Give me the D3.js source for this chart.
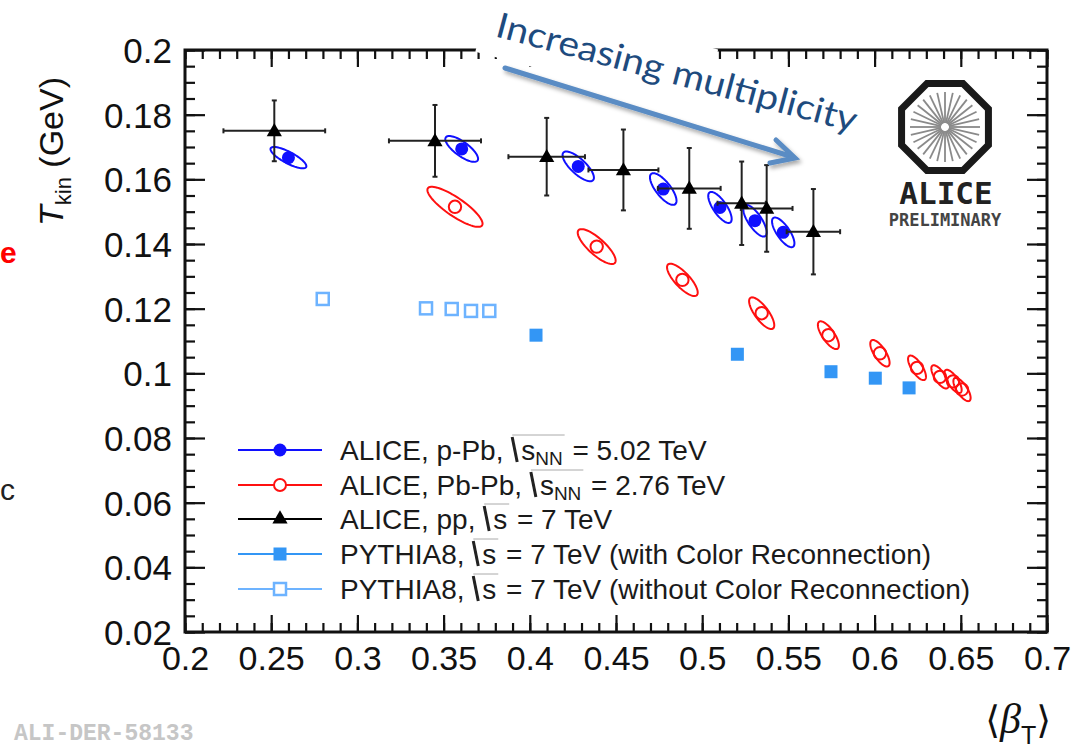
<!DOCTYPE html>
<html><head><meta charset="utf-8">
<script src="https://cdn.jsdelivr.net/npm/d3@7"></script>
<style>body{margin:0;background:#fff;} svg{display:block;}</style>
</head><body>
<svg id="c" width="1081" height="748"></svg>
<script>
// ---------------- DATA ----------------
// p-Pb 5.02 TeV: beta, Tkin, half-extent in beta, half-extent in Tkin, correlation
const ppbPoints = [
  [0.2600, 0.1667, 0.0104, 0.0033, -0.80],
  [0.3605, 0.1694, 0.0095, 0.0040, -0.76],
  [0.4281, 0.1640, 0.0091, 0.0046, -0.76],
  [0.4774, 0.1570, 0.0077, 0.0049, -0.74],
  [0.5103, 0.1513, 0.0068, 0.0048, -0.74],
  [0.5306, 0.1472, 0.0068, 0.0049, -0.74],
  [0.5470, 0.1436, 0.0065, 0.0046, -0.74]
];
// Pb-Pb 2.76 TeV
const pbpbPoints = [
  [0.3566, 0.1515, 0.0160, 0.0062, -0.84],
  [0.4388, 0.1392, 0.0110, 0.0054, -0.80],
  [0.4885, 0.1289, 0.0089, 0.0050, -0.78],
  [0.5345, 0.1186, 0.0073, 0.0049, -0.76],
  [0.5732, 0.1118, 0.0061, 0.0043, -0.74],
  [0.6031, 0.1062, 0.0056, 0.0041, -0.72],
  [0.6246, 0.1017, 0.0052, 0.0038, -0.72],
  [0.6379, 0.0989, 0.0050, 0.0036, -0.72],
  [0.6455, 0.0975, 0.0050, 0.0036, -0.72],
  [0.6507, 0.0950, 0.0050, 0.0036, -0.72]
];
// pp 7 TeV: beta, Tkin, beta error, Tkin error
const ppPoints = [
  [0.2518, 0.1750, 0.0295, 0.0094],
  [0.3450, 0.1719, 0.0267, 0.0111],
  [0.4098, 0.1670, 0.0222, 0.0120],
  [0.4543, 0.1629, 0.0203, 0.0125],
  [0.4925, 0.1572, 0.0182, 0.0125],
  [0.5229, 0.1526, 0.0140, 0.0129],
  [0.5374, 0.1510, 0.0150, 0.0134],
  [0.5645, 0.1438, 0.0155, 0.0132]
];
const pythiaCR = [[0.4036, 0.1118], [0.5204, 0.1059], [0.5747, 0.1005], [0.6004, 0.0985], [0.6200, 0.0955]];
const pythiaNoCR = [[0.2799, 0.1230], [0.3398, 0.1201], [0.3547, 0.1199], [0.3659, 0.1193], [0.3765, 0.1193]];

const xTicks = [0.2, 0.25, 0.3, 0.35, 0.4, 0.45, 0.5, 0.55, 0.6, 0.65, 0.7];
const xTickLabels = ["0.2", "0.25", "0.3", "0.35", "0.4", "0.45", "0.5", "0.55", "0.6", "0.65", "0.7"];
const yTicks = [0.02, 0.04, 0.06, 0.08, 0.1, 0.12, 0.14, 0.16, 0.18, 0.2];
const yTickLabels = ["0.02", "0.04", "0.06", "0.08", "0.1", "0.12", "0.14", "0.16", "0.18", "0.2"];

const legendEntries = [
  {key: "ppb",  parts: [{t: "ALICE, p-Pb, "}, {rad: 1}, {t: "s"}, {t: "NN", sub: 1}, {radEnd: 1}, {t: " = 5.02 TeV"}]},
  {key: "pbpb", parts: [{t: "ALICE, Pb-Pb, "}, {rad: 1}, {t: "s"}, {t: "NN", sub: 1}, {radEnd: 1}, {t: " = 2.76 TeV"}]},
  {key: "pp",   parts: [{t: "ALICE, pp, "}, {rad: 1}, {t: "s"}, {radEnd: 1}, {t: " = 7 TeV"}]},
  {key: "cr",   parts: [{t: "PYTHIA8, "}, {rad: 1}, {t: "s"}, {radEnd: 1}, {t: " = 7 TeV (with Color Reconnection)"}]},
  {key: "nocr", parts: [{t: "PYTHIA8, "}, {rad: 1}, {t: "s"}, {radEnd: 1}, {t: " = 7 TeV (without Color Reconnection)"}]}
];

// ---------------- STYLE ----------------
const C = {ppb: "#1010ff", pbpb: "#ff1010", pp: "#000", cr: "#3396f5", nocr: "#6db3ff"};
const FONT = "'Liberation Sans', Arial, Helvetica, sans-serif";

const svg = d3.select("#c");
const x = d3.scaleLinear().domain([0.2, 0.7]).range([185, 1047]);
const y = d3.scaleLinear().domain([0.02, 0.2]).range([632, 50]);

// ---------- axes ----------
function styleAxis(g) {
  g.select(".domain").remove();
  g.selectAll("line").attr("stroke", "#111").attr("stroke-width", 2.2);
}
const xMinor = d3.range(0.2, 0.7001, 0.01);
const yMinor = d3.range(0.02, 0.2001, 0.005);

const axG = svg.append("g");
axG.append("g").attr("transform", "translate(0,632)")
  .call(d3.axisBottom(x).tickValues(xMinor).tickSize(-9).tickFormat("")).call(styleAxis);
axG.append("g").attr("transform", "translate(0,50)")
  .call(d3.axisTop(x).tickValues(xMinor).tickSize(-9).tickFormat("")).call(styleAxis);
axG.append("g").attr("transform", "translate(185,0)")
  .call(d3.axisLeft(y).tickValues(yMinor).tickSize(-10).tickFormat("")).call(styleAxis);
axG.append("g").attr("transform", "translate(1047,0)")
  .call(d3.axisRight(y).tickValues(yMinor).tickSize(-10).tickFormat("")).call(styleAxis);

const xAxB = axG.append("g").attr("transform", "translate(0,632)")
  .call(d3.axisBottom(x).tickValues(xTicks).tickSize(-17).tickPadding(14).tickFormat((d, i) => xTickLabels[i]));
xAxB.call(styleAxis);
xAxB.selectAll("text").attr("font-family", FONT).attr("font-size", 34).attr("fill", "#111").attr("dy", "0.71em");
axG.append("g").attr("transform", "translate(0,50)")
  .call(d3.axisTop(x).tickValues(xTicks).tickSize(-17).tickFormat("")).call(styleAxis);
const yAxL = axG.append("g").attr("transform", "translate(185,0)")
  .call(d3.axisLeft(y).tickValues(yTicks).tickSize(-20).tickPadding(13).tickFormat((d, i) => yTickLabels[i]));
yAxL.call(styleAxis);
yAxL.selectAll("text").attr("font-family", FONT).attr("font-size", 35).attr("fill", "#111").attr("dy", "0.36em");
axG.append("g").attr("transform", "translate(1047,0)")
  .call(d3.axisRight(y).tickValues(yTicks).tickSize(-20).tickFormat("")).call(styleAxis);

// frame
svg.append("rect").attr("x", 185).attr("y", 50).attr("width", 1047 - 185).attr("height", 632 - 50)
  .attr("fill", "none").attr("stroke", "#111").attr("stroke-width", 3);

// ---------- ellipses ----------
function ellipsePath(d) {
  const phi = Math.acos(d[4]);
  const pts = d3.range(0, 73).map(k => {
    const t = k / 72 * 2 * Math.PI;
    return [x(d[0] + d[2] * Math.cos(t)), y(d[1] + d[3] * Math.cos(t - phi))];
  });
  return d3.line()(pts) + "Z";
}
const dataG = svg.append("g");
dataG.selectAll(".epb").data(pbpbPoints).join("path").attr("d", ellipsePath)
  .attr("fill", "none").attr("stroke", C.pbpb).attr("stroke-width", 2);
dataG.selectAll(".cpb").data(pbpbPoints).join("circle")
  .attr("cx", d => x(d[0])).attr("cy", d => y(d[1])).attr("r", 6.2)
  .attr("fill", "none").attr("stroke", C.pbpb).attr("stroke-width", 2);

dataG.selectAll(".ep").data(ppbPoints).join("path").attr("d", ellipsePath)
  .attr("fill", "none").attr("stroke", C.ppb).attr("stroke-width", 2);
dataG.selectAll(".cp").data(ppbPoints).join("circle")
  .attr("cx", d => x(d[0])).attr("cy", d => y(d[1])).attr("r", 6.5).attr("fill", C.ppb);

// pp error bars
const ppG = dataG.append("g").attr("stroke", "#222").attr("stroke-width", 2);
ppPoints.forEach(d => {
  const cx = x(d[0]), cy = y(d[1]);
  const x0 = x(d[0] - d[2]), x1 = x(d[0] + d[2]);
  const y0 = y(d[1] - d[3]), y1 = y(d[1] + d[3]);
  ppG.append("line").attr("x1", x0).attr("x2", x1).attr("y1", cy).attr("y2", cy);
  ppG.append("line").attr("x1", cx).attr("x2", cx).attr("y1", y0).attr("y2", y1);
  ppG.append("line").attr("x1", x0).attr("x2", x0).attr("y1", cy - 2.5).attr("y2", cy + 2.5);
  ppG.append("line").attr("x1", x1).attr("x2", x1).attr("y1", cy - 2.5).attr("y2", cy + 2.5);
  ppG.append("line").attr("x1", cx - 2.5).attr("x2", cx + 2.5).attr("y1", y0).attr("y2", y0);
  ppG.append("line").attr("x1", cx - 2.5).attr("x2", cx + 2.5).attr("y1", y1).attr("y2", y1);
});
const tri = d3.symbol().type(d3.symbolTriangle).size(100);
dataG.selectAll(".tp").data(ppPoints).join("path").attr("d", tri)
  .attr("transform", d => `translate(${x(d[0])},${y(d[1]) + 1})`).attr("fill", "#000");

// PYTHIA
dataG.selectAll(".sq").data(pythiaCR).join("rect")
  .attr("x", d => x(d[0]) - 6.5).attr("y", d => y(d[1]) - 6.5).attr("width", 13).attr("height", 13)
  .attr("fill", C.cr);
dataG.selectAll(".osq").data(pythiaNoCR).join("rect")
  .attr("x", d => x(d[0]) - 6).attr("y", d => y(d[1]) - 6).attr("width", 12).attr("height", 12)
  .attr("fill", "none").attr("stroke", C.nocr).attr("stroke-width", 2.5);

// ---------- legend ----------
const legG = svg.append("g");
const rowY = [450, 485, 519, 554, 589];
legendEntries.forEach((e, i) => {
  const cy = rowY[i];
  legG.append("line").attr("x1", 238).attr("x2", 322).attr("y1", cy).attr("y2", cy)
    .attr("stroke", C[e.key]).attr("stroke-width", 2);
  if (e.key === "ppb") legG.append("circle").attr("cx", 280).attr("cy", cy).attr("r", 6.5).attr("fill", C.ppb);
  if (e.key === "pbpb") legG.append("circle").attr("cx", 280).attr("cy", cy).attr("r", 6).attr("fill", "#fff").attr("stroke", C.pbpb).attr("stroke-width", 2);
  if (e.key === "pp") legG.append("path").attr("d", tri).attr("transform", `translate(280,${cy})`).attr("fill", "#000");
  if (e.key === "cr") legG.append("rect").attr("x", 273.5).attr("y", cy - 6.5).attr("width", 13).attr("height", 13).attr("fill", C.cr);
  if (e.key === "nocr") legG.append("rect").attr("x", 274).attr("y", cy - 6).attr("width", 12).attr("height", 12).attr("fill", "#fff").attr("stroke", C.nocr).attr("stroke-width", 2.5);

  let cx = 340; const base = cy + 10; let radX = 0;
  e.parts.forEach(p => {
    if (p.rad) { radX = cx; cx += 10; return; }
    if (p.radEnd) {
      legG.append("path").attr("d", `M${radX + 1},${base - 23} L${radX + 6},${base + 2}`)
        .attr("stroke", "#222").attr("stroke-width", 3).attr("fill", "none");
      legG.append("line").attr("x1", radX + 1).attr("x2", cx + 2).attr("y1", base - 25).attr("y2", base - 25)
        .attr("stroke", "#aaa").attr("stroke-width", 1);
      cx += 2; return;
    }
    const t = legG.append("text").attr("x", cx).attr("y", p.sub ? base + 5 : base)
      .attr("font-family", FONT).attr("font-size", p.sub ? 19 : 28).attr("fill", "#1a1a1a")
      .style("white-space", "pre").text(p.t);
    cx += t.node().getComputedTextLength();
  });
});

// ---------- axis titles ----------
const yt = svg.append("text").attr("transform", "translate(63,226) rotate(-90)")
  .attr("font-family", FONT).attr("font-size", 34).attr("fill", "#111");
yt.append("tspan").attr("font-style", "italic").text("T");
yt.append("tspan").attr("font-size", 22).attr("dy", 8).text("kin");
yt.append("tspan").attr("dy", -8).text(" (GeV)");

const xt = svg.append("text").attr("x", 1051).attr("y", 733).attr("text-anchor", "end")
  .attr("font-family", FONT).attr("font-size", 42).attr("fill", "#111");
xt.append("tspan").attr("font-family", "'DejaVu Sans'").attr("font-size", 38).text("\u27E8");
xt.append("tspan").attr("font-family", "'Liberation Serif'").attr("font-style", "italic").text("\u03B2");
xt.append("tspan").attr("font-size", 25).attr("dy", 11).text("T");
xt.append("tspan").attr("font-family", "'DejaVu Sans'").attr("font-size", 38).attr("dy", -11).text("\u27E9");

// ---------- ALICE logo ----------
const logo = svg.append("g").attr("transform", "translate(945,127)");
const octR = 47;
const oct = d3.range(8).map(k => {
  const a = (k * 45 + 22.5) * Math.PI / 180;
  return [octR * Math.cos(a), octR * Math.sin(a)];
});
logo.append("path").attr("d", d3.line()(oct) + "Z").attr("fill", "none").attr("stroke", "#1a1a1a").attr("stroke-width", 7);
d3.range(28).forEach(k => {
  const a = k / 28 * 2 * Math.PI;
  logo.append("line").attr("x1", 4 * Math.cos(a)).attr("y1", 4 * Math.sin(a))
    .attr("x2", 35 * Math.cos(a)).attr("y2", 35 * Math.sin(a))
    .attr("stroke", "#8a8a8a").attr("stroke-width", 1.8);
});
svg.append("text").attr("x", 946).attr("y", 204).attr("text-anchor", "middle")
  .attr("font-family", "'DejaVu Sans Mono'").attr("font-weight", "bold").attr("font-size", 31)
  .attr("fill", "#222").text("ALICE");
svg.append("text").attr("x", 945).attr("y", 226).attr("text-anchor", "middle")
  .attr("font-family", "'DejaVu Sans Mono'").attr("font-weight", "bold").attr("font-size", 17)
  .attr("fill", "#444").text("PRELIMINARY");

// ---------- annotation ----------
const ang = 15;
const ann = svg.append("g").attr("transform", `translate(494,36) rotate(${ang})`);
ann.append("rect").attr("x", -14).attr("y", -45).attr("width", 234).attr("height", 65).attr("fill", "#fff");
const defs = svg.append("defs");
const f = defs.append("filter").attr("id", "sh").attr("x", "-10%").attr("y", "-50%").attr("width", "120%").attr("height", "200%");
f.append("feDropShadow").attr("dx", 2).attr("dy", 3).attr("stdDeviation", 2).attr("flood-color", "#000").attr("flood-opacity", 0.35);
const arr = svg.append("g").attr("filter", "url(#sh)").attr("stroke", "#5a8cc4").attr("stroke-width", 5)
  .attr("fill", "none").attr("stroke-linecap", "round");
arr.append("line").attr("x1", 505).attr("y1", 68).attr("x2", 793).attr("y2", 157);
arr.append("path").attr("d", "M776,140 L795,158 L770,163").attr("stroke-linejoin", "miter");
ann.append("text").attr("x", 0).attr("y", 0).attr("font-family", "Lato, 'Open Sans', sans-serif")
  .attr("font-size", 35).attr("fill", "#1e4b7e").attr("textLength", 372).attr("lengthAdjust", "spacingAndGlyphs")
  .text("Increasing multiplicity");

// ---------- slide remnants ----------
svg.append("text").attr("x", 0).attr("y", 263).attr("font-family", FONT).attr("font-size", 30)
  .attr("font-weight", "bold").attr("fill", "#f00").text("e");
svg.append("text").attr("x", 0).attr("y", 500).attr("font-family", FONT).attr("font-size", 30)
  .attr("fill", "#222").text("c");
svg.append("text").attr("x", 14).attr("y", 740).attr("font-family", "'Liberation Mono', monospace")
  .attr("font-weight", "bold").attr("font-size", 23).attr("fill", "#c6c6c6").text("ALI-DER-58133");
</script>
</body></html>
